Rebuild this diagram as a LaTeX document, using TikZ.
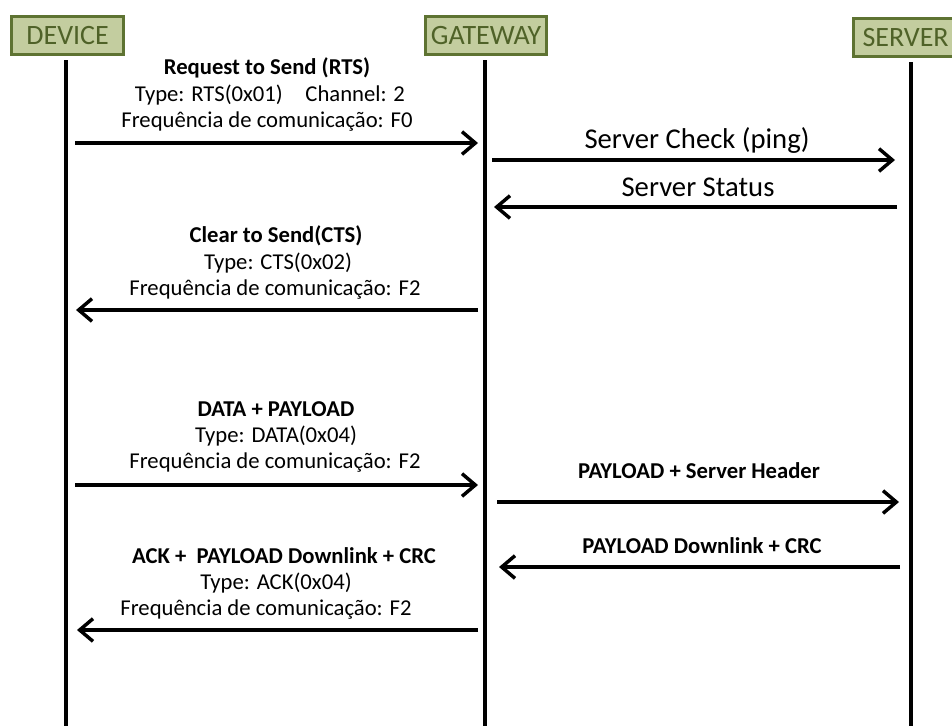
\documentclass[tikz,border=0pt]{standalone}
\usepackage{fontspec}
\setmainfont{Carlito}
\usetikzlibrary{arrows.meta}
\definecolor{hdrfill}{HTML}{C3CD9F}
\definecolor{hdrline}{HTML}{5E7332}
\definecolor{hdrtext}{HTML}{4F6228}
\tikzset{
  hdr/.style={draw=hdrline, line width=2.4pt, fill=hdrfill, text=hdrtext, inner sep=0pt, anchor=north west, font=\fontsize{21}{24}\selectfont},
  life/.style={line width=3pt, black},
  msg/.style={line width=3pt, -{Straight Barb[length=10pt,width=17pt,line width=2.6pt]}},
  lbl/.style={font=\fontsize{17}{19}\selectfont, inner sep=0pt},
  lblb/.style={font=\fontsize{17}{19}\selectfont\bfseries, inner sep=0pt},
  lblbig/.style={font=\fontsize{21.5}{24}\selectfont, inner sep=0pt},
}
\begin{document}
\begin{tikzpicture}[x=0.75pt,y=-0.75pt]
\useasboundingbox (0,0) rectangle (952,726);
% headers
\node[hdr, minimum width=112*0.75pt, minimum height=38*0.75pt] (dev) at (10,15) {DEVICE};
\node[hdr, minimum width=121*0.75pt, minimum height=38*0.75pt] (gw) at (424,15) {GATEWAY};
\node[hdr, minimum width=104*0.75pt, minimum height=38*0.75pt] (srv) at (852,17) {SERVER};
% lifelines
\coordinate (devtop) at (65.5,60); \coordinate (devbot) at (65.5,726);
\coordinate (gwtop) at (484.5,60); \coordinate (gwbot) at (484.5,726);
\coordinate (srvtop) at (910.5,62); \coordinate (srvbot) at (910.5,726);
\draw[life] (devtop) -- (devbot);
\draw[life] (gwtop) -- (gwbot);
\draw[life] (srvtop) -- (srvbot);
% RTS
\node[lblb] (t1a) at (267,68) {Request to Send (RTS)};
\node[lbl] (t1b) at (270,95) {Type: RTS(0x01)\hspace{1em}Channel: 2};
\node[lbl] (t1c) at (267,122) {Frequência de comunicação: F0};
\coordinate (a1s) at (75,143); \coordinate (a1e) at (478,143);
\draw[msg] (a1s) -- (a1e);
% Server check
\node[lblbig] (t2) at (697,140) {Server Check (ping)};
\coordinate (a2s) at (492,160); \coordinate (a2e) at (895,160);
\draw[msg] (a2s) -- (a2e);
% Server status
\node[lblbig] (t3) at (698,187) {Server Status};
\coordinate (a3s) at (897,207); \coordinate (a3e) at (494,207);
\draw[msg] (a3s) -- (a3e);
% CTS
\node[lblb] (t4a) at (276,236) {Clear to Send(CTS)};
\node[lbl] (t4b) at (278,263) {Type: CTS(0x02)};
\node[lbl] (t4c) at (275,290) {Frequência de comunicação: F2};
\coordinate (a4s) at (478,310); \coordinate (a4e) at (76,310);
\draw[msg] (a4s) -- (a4e);
% DATA
\node[lblb] (t5a) at (276,409) {DATA + PAYLOAD};
\node[lbl] (t5b) at (276,436) {Type: DATA(0x04)};
\node[lbl] (t5c) at (275,463) {Frequência de comunicação: F2};
\coordinate (a5s) at (75,485); \coordinate (a5e) at (478,485);
\draw[msg] (a5s) -- (a5e);
% PAYLOAD + Server Header
\node[lblb] (t6) at (699,471) {PAYLOAD + Server Header};
\coordinate (a6s) at (497,502); \coordinate (a6e) at (899,502);
\draw[msg] (a6s) -- (a6e);
% PAYLOAD Downlink + CRC
\node[lblb] (t7) at (702,546) {PAYLOAD Downlink + CRC};
\coordinate (a7s) at (900,567); \coordinate (a7e) at (499,567);
\draw[msg] (a7s) -- (a7e);
% ACK
\node[lblb] (t8a) at (284,556) {ACK +\ \ PAYLOAD Downlink + CRC};
\node[lbl] (t8b) at (276,583) {Type: ACK(0x04)};
\node[lbl] (t8c) at (266,610) {Frequência de comunicação: F2};
\coordinate (a8s) at (478,630); \coordinate (a8e) at (77,630);
\draw[msg] (a8s) -- (a8e);
\end{tikzpicture}
\end{document}
